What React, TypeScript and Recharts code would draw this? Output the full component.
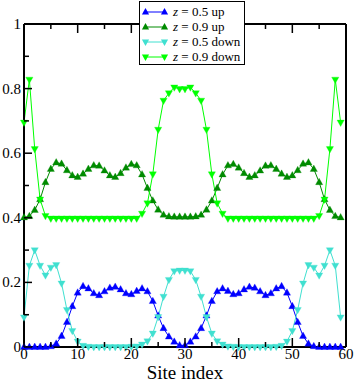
import React from 'react';
import { LineChart, Line, XAxis, YAxis, Legend } from 'recharts';

const sites: number[] = Array.from({ length: 60 }, (_, i) => i);

const up05: number[] = [
  0, 0, 0, 0, 0, 0.002, 0.01, 0.034, 0.077, 0.126,
  0.168, 0.188, 0.181, 0.166, 0.16, 0.172, 0.183, 0.186, 0.178, 0.166,
  0.163, 0.173, 0.181, 0.172, 0.142, 0.097, 0.058, 0.032, 0.016, 0.005,
  0.005, 0.016, 0.032, 0.058, 0.097, 0.142, 0.172, 0.181, 0.173, 0.163,
  0.166, 0.178, 0.186, 0.183, 0.172, 0.16, 0.166, 0.181, 0.188, 0.168,
  0.126, 0.077, 0.034, 0.01, 0.002, 0, 0, 0, 0, 0,
];

const up09: number[] = [
  0.401, 0.405, 0.424, 0.457, 0.51, 0.551, 0.571, 0.567, 0.547, 0.531,
  0.526, 0.536, 0.551, 0.562, 0.561, 0.546, 0.531, 0.526, 0.538, 0.555,
  0.566, 0.562, 0.534, 0.492, 0.453, 0.425, 0.409, 0.404, 0.403, 0.403,
  0.403, 0.403, 0.404, 0.409, 0.425, 0.453, 0.492, 0.534, 0.562, 0.566,
  0.555, 0.538, 0.526, 0.531, 0.546, 0.561, 0.562, 0.551, 0.536, 0.526,
  0.531, 0.547, 0.567, 0.571, 0.551, 0.51, 0.457, 0.424, 0.405, 0.401,
];

const down05: number[] = [
  0.092, 0.252, 0.3, 0.252, 0.222, 0.246, 0.254, 0.197, 0.115, 0.05,
  0.017, 0.004, 0.001, 0, 0, 0, 0, 0, 0, 0,
  0.001, 0.002, 0.008, 0.018, 0.042, 0.093, 0.156, 0.208, 0.235, 0.237,
  0.237, 0.235, 0.208, 0.156, 0.093, 0.042, 0.018, 0.008, 0.002, 0.001,
  0, 0, 0, 0, 0, 0, 0, 0.001, 0.004, 0.017,
  0.05, 0.115, 0.197, 0.254, 0.246, 0.222, 0.252, 0.3, 0.252, 0.092,
];

const down09: number[] = [
  0.695, 0.828, 0.613, 0.457, 0.406, 0.398, 0.398, 0.398, 0.398, 0.398,
  0.398, 0.398, 0.398, 0.398, 0.398, 0.398, 0.398, 0.398, 0.398, 0.398,
  0.398, 0.398, 0.413, 0.445, 0.535, 0.673, 0.763, 0.786, 0.804, 0.799,
  0.799, 0.804, 0.786, 0.763, 0.673, 0.535, 0.445, 0.413, 0.398, 0.398,
  0.398, 0.398, 0.398, 0.398, 0.398, 0.398, 0.398, 0.398, 0.398, 0.398,
  0.398, 0.398, 0.398, 0.398, 0.398, 0.406, 0.457, 0.613, 0.828, 0.695,
];

const xTicks: number[] = [0, 5, 10, 15, 20, 25, 30, 35, 40, 45, 50, 55, 60];
const yTicks: number[] = [0, 0.1, 0.2, 0.3, 0.4, 0.5, 0.6, 0.7, 0.8, 0.9, 1];

const seriesDefs = [
  { key: 'up05', label: '0.5 up', color: '#0000ff', dir: 'up' },
  { key: 'up09', label: '0.9 up', color: '#008b00', dir: 'up' },
  { key: 'down05', label: '0.5 down', color: '#40e0d0', dir: 'down' },
  { key: 'down09', label: '0.9 down', color: '#00ff00', dir: 'down' },
];

const data = sites.map((s, i) => ({
  site: s,
  up05: up05[i],
  up09: up09[i],
  down05: down05[i],
  down09: down09[i],
}));

const FONT = "'Liberation Serif', 'DejaVu Serif', serif";

const tri = (cx: number, cy: number, dir: string) =>
  dir === 'up'
    ? `M${cx},${cy - 4} L${cx + 3.6},${cy + 2.4} L${cx - 3.6},${cy + 2.4} Z`
    : `M${cx},${cy + 4} L${cx + 3.6},${cy - 2.4} L${cx - 3.6},${cy - 2.4} Z`;

const makeDot = (color: string, dir: string, key: string) => (props: any) => {
  const { cx, cy, index } = props;
  if (cx == null || cy == null) return <g key={`${key}-${index}`} />;
  return <path key={`${key}-${index}`} d={tri(cx, cy, dir)} fill={color} stroke={color} strokeWidth={0.3} />;
};

const isMajorX = (v: number) => Math.round(v) % 10 === 0;
const isMajorY = (v: number) => Math.round(v * 10) % 2 === 0;

const BottomTick = (p: any) => {
  const v = p.payload.value;
  const major = isMajorX(v);
  return (
    <g>
      <line x1={p.x} x2={p.x} y1={p.y} y2={p.y - (major ? 9 : 5)} stroke="#000" strokeWidth={1.5} />
      {major && (
        <text x={p.x} y={p.y + 12} textAnchor="middle" fontFamily={FONT} fontSize={15} fill="#000">
          {v}
        </text>
      )}
    </g>
  );
};

const TopTick = (p: any) => {
  const v = p.payload.value;
  const major = isMajorX(v);
  return <line x1={p.x} x2={p.x} y1={p.y} y2={p.y + (major ? 9 : 5)} stroke="#000" strokeWidth={1.5} />;
};

const LeftTick = (p: any) => {
  const v = p.payload.value;
  const major = isMajorY(v);
  return (
    <g>
      <line x1={p.x} x2={p.x + (major ? 8 : 5)} y1={p.y} y2={p.y} stroke="#000" strokeWidth={1.5} />
      {major && (
        <text x={p.x - 3} y={p.y + 5} textAnchor="end" fontFamily={FONT} fontSize={15} fill="#000">
          {String(Math.round(v * 10) / 10)}
        </text>
      )}
    </g>
  );
};

const RightTick = (p: any) => {
  const v = p.payload.value;
  const major = isMajorY(v);
  return <line x1={p.x} x2={p.x - (major ? 8 : 5)} y1={p.y} y2={p.y} stroke="#000" strokeWidth={1.5} />;
};

const LegendBox = () => (
  <div
    style={{
      boxSizing: 'border-box',
      width: 106,
      height: 64,
      background: '#fff',
      border: '1.3px solid #000',
      fontFamily: FONT,
      fontSize: 13,
      color: '#000',
      paddingTop: 2,
    }}
  >
    {seriesDefs.map((s) => (
      <div key={s.key} style={{ display: 'flex', alignItems: 'center', height: 15.2, whiteSpace: 'nowrap' }}>
        <svg width={33} height={12} style={{ display: 'block', flex: 'none' }}>
          <line x1={5.5} x2={24.5} y1={6} y2={6} stroke={s.color} strokeWidth={1} />
          <path d={tri(5.5, 6, s.dir)} fill={s.color} />
          <path d={tri(24.5, 6, s.dir)} fill={s.color} />
        </svg>
        <span>
          <i>z</i> = {s.label}
        </span>
      </div>
    ))}
  </div>
);

export default function App() {
  return (
    <div style={{ position: 'absolute', left: 0, top: 0, width: 355, height: 382, background: '#fff' }}>
      <LineChart width={355} height={382} data={data} margin={{ top: 0, right: 0, bottom: 0, left: 0 }}>
        <XAxis
          xAxisId="b"
          dataKey="site"
          type="number"
          domain={[0, 60]}
          ticks={xTicks}
          interval={0}
          height={35}
          tickSize={0}
          tickMargin={0}
          tickLine={false}
          axisLine={{ stroke: '#000', strokeWidth: 2 }}
          tick={<BottomTick />}
          label={{ value: 'Site index', position: 'insideBottom', offset: 3, fontSize: 19, fontFamily: FONT, fill: '#000' }}
        />
        <XAxis
          xAxisId="t"
          orientation="top"
          dataKey="site"
          type="number"
          domain={[0, 60]}
          ticks={xTicks}
          interval={0}
          height={24}
          tickSize={0}
          tickMargin={0}
          tickLine={false}
          axisLine={{ stroke: '#000', strokeWidth: 2 }}
          tick={<TopTick />}
        />
        <YAxis
          yAxisId="l"
          type="number"
          domain={[0, 1]}
          ticks={yTicks}
          interval={0}
          width={24}
          tickSize={0}
          tickMargin={0}
          tickLine={false}
          axisLine={{ stroke: '#000', strokeWidth: 2 }}
          tick={<LeftTick />}
        />
        <YAxis
          yAxisId="r"
          orientation="right"
          type="number"
          domain={[0, 1]}
          ticks={yTicks}
          interval={0}
          width={9}
          tickSize={0}
          tickMargin={0}
          tickLine={false}
          axisLine={{ stroke: '#000', strokeWidth: 2 }}
          tick={<RightTick />}
        />
        {seriesDefs.map((s) => (
          <Line
            key={s.key}
            xAxisId="b"
            yAxisId="l"
            type="linear"
            dataKey={s.key}
            stroke={s.color}
            strokeWidth={1}
            dot={makeDot(s.color, s.dir, s.key)}
            activeDot={false}
            isAnimationActive={false}
          />
        ))}
        <Legend
          layout="vertical"
          align="center"
          verticalAlign="middle"
          wrapperStyle={{ left: 139, top: 1, width: 106, height: 64 }}
          content={<LegendBox />}
        />
      </LineChart>
    </div>
  );
}
